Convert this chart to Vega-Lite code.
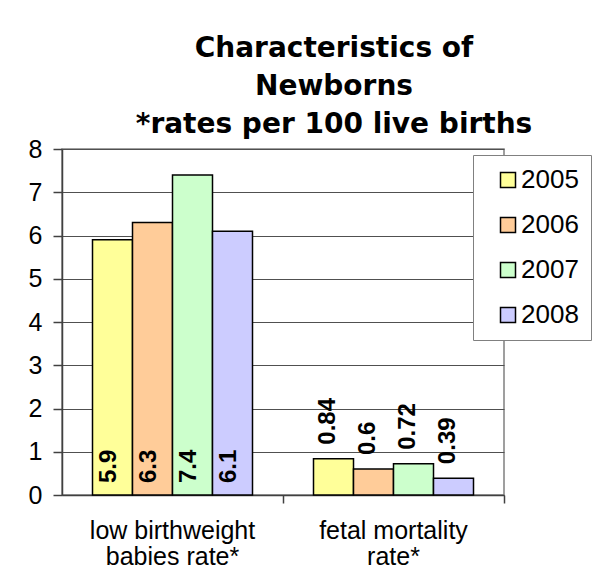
{
  "$schema": "https://vega.github.io/schema/vega-lite/v6.json",
  "width": 442,
  "height": 346,
  "autosize": {"type": "none"},
  "padding": {"left": 62, "top": 149, "right": 98, "bottom": 86},
  "background": "white",
  "title": {
    "text": ["Characteristics of", "Newborns", "*rates per 100 live births"],
    "font": "DejaVu Sans",
    "fontSize": 28,
    "fontWeight": "bold",
    "color": "black",
    "lineHeight": 38,
    "anchor": "middle",
    "frame": "group",
    "dx": 51,
    "offset": -2
  },
  "data": {
    "values": [
      {"measure": "low birthweight babies rate*", "year": "2005", "rate": 5.9},
      {"measure": "low birthweight babies rate*", "year": "2006", "rate": 6.3},
      {"measure": "low birthweight babies rate*", "year": "2007", "rate": 7.4},
      {"measure": "low birthweight babies rate*", "year": "2008", "rate": 6.1},
      {"measure": "fetal mortality rate*", "year": "2005", "rate": 0.84},
      {"measure": "fetal mortality rate*", "year": "2006", "rate": 0.6},
      {"measure": "fetal mortality rate*", "year": "2007", "rate": 0.72},
      {"measure": "fetal mortality rate*", "year": "2008", "rate": 0.39}
    ]
  },
  "encoding": {
    "x": {
      "field": "measure",
      "type": "nominal",
      "sort": null,
      "scale": {"padding": 0},
      "axis": {
        "title": null,
        "bandPosition": 1,
        "tickSize": 8,
        "labelAngle": 0,
        "labelExpr": "datum.value == 'fetal mortality rate*' ? ['fetal mortality', 'rate*'] : ['low birthweight', 'babies rate*']",
        "labelLineHeight": 26,
        "labelPadding": 15,
        "labelFont": "Liberation Sans",
        "labelFontSize": 25,
        "labelColor": "black",
        "domainColor": "#404040",
        "domainWidth": 1.5,
        "tickColor": "#404040",
        "tickWidth": 1.5
      }
    },
    "xOffset": {
      "field": "year",
      "type": "nominal",
      "scale": {"paddingInner": 0, "paddingOuter": 0.7625}
    }
  },
  "layer": [
    {
      "mark": {"type": "bar", "stroke": "black", "strokeWidth": 1.5},
      "encoding": {
        "y": {
          "field": "rate",
          "type": "quantitative",
          "scale": {"domain": [0, 8], "nice": false},
          "axis": {
            "title": null,
            "values": [0, 1, 2, 3, 4, 5, 6, 7, 8],
            "grid": true,
            "gridColor": "#505050",
            "gridWidth": 1,
            "domainColor": "#404040",
            "domainWidth": 1.5,
            "tickColor": "#404040",
            "tickSize": 9,
            "tickWidth": 1.5,
            "labelPadding": 11,
            "labelFont": "Liberation Sans",
            "labelFontSize": 25,
            "labelColor": "black"
          }
        },
        "color": {
          "field": "year",
          "type": "nominal",
          "scale": {
            "domain": ["2005", "2006", "2007", "2008"],
            "range": ["#FFFF99", "#FFCC99", "#CCFFCC", "#CCCCFF"]
          },
          "legend": {
            "title": null,
            "orient": "none",
            "legendX": 411,
            "legendY": 6,
            "symbolType": "square",
            "symbolSize": 225,
            "symbolStrokeColor": "black",
            "symbolStrokeWidth": 1.5,
            "labelFont": "Liberation Sans",
            "labelFontSize": 26,
            "labelColor": "black",
            "labelOffset": 0,
            "rowPadding": 19,
            "padding": 12,
            "symbolOffset": 10,
            "strokeColor": "#808080",
            "fillColor": "white"
          }
        }
      }
    },
    {
      "transform": [{"filter": "datum.measure == 'low birthweight babies rate*'"}],
      "mark": {
        "type": "text",
        "angle": 270,
        "align": "left",
        "baseline": "middle",
        "dx": 12,
        "dy": -4,
        "font": "Liberation Sans",
        "fontSize": 24,
        "fontWeight": "bold",
        "color": "black"
      },
      "encoding": {
        "y": {"datum": 0, "type": "quantitative"},
        "text": {"field": "rate", "type": "nominal"}
      }
    },
    {
      "transform": [{"filter": "datum.measure == 'fetal mortality rate*'"}],
      "mark": {
        "type": "text",
        "angle": 270,
        "align": "left",
        "baseline": "middle",
        "dx": 14,
        "dy": -6,
        "font": "Liberation Sans",
        "fontSize": 24,
        "fontWeight": "bold",
        "color": "black"
      },
      "encoding": {
        "y": {"field": "rate", "type": "quantitative"},
        "text": {"field": "rate", "type": "nominal"}
      }
    }
  ],
  "config": {
    "view": {"stroke": "#808080", "strokeWidth": 1.5}
  }
}
